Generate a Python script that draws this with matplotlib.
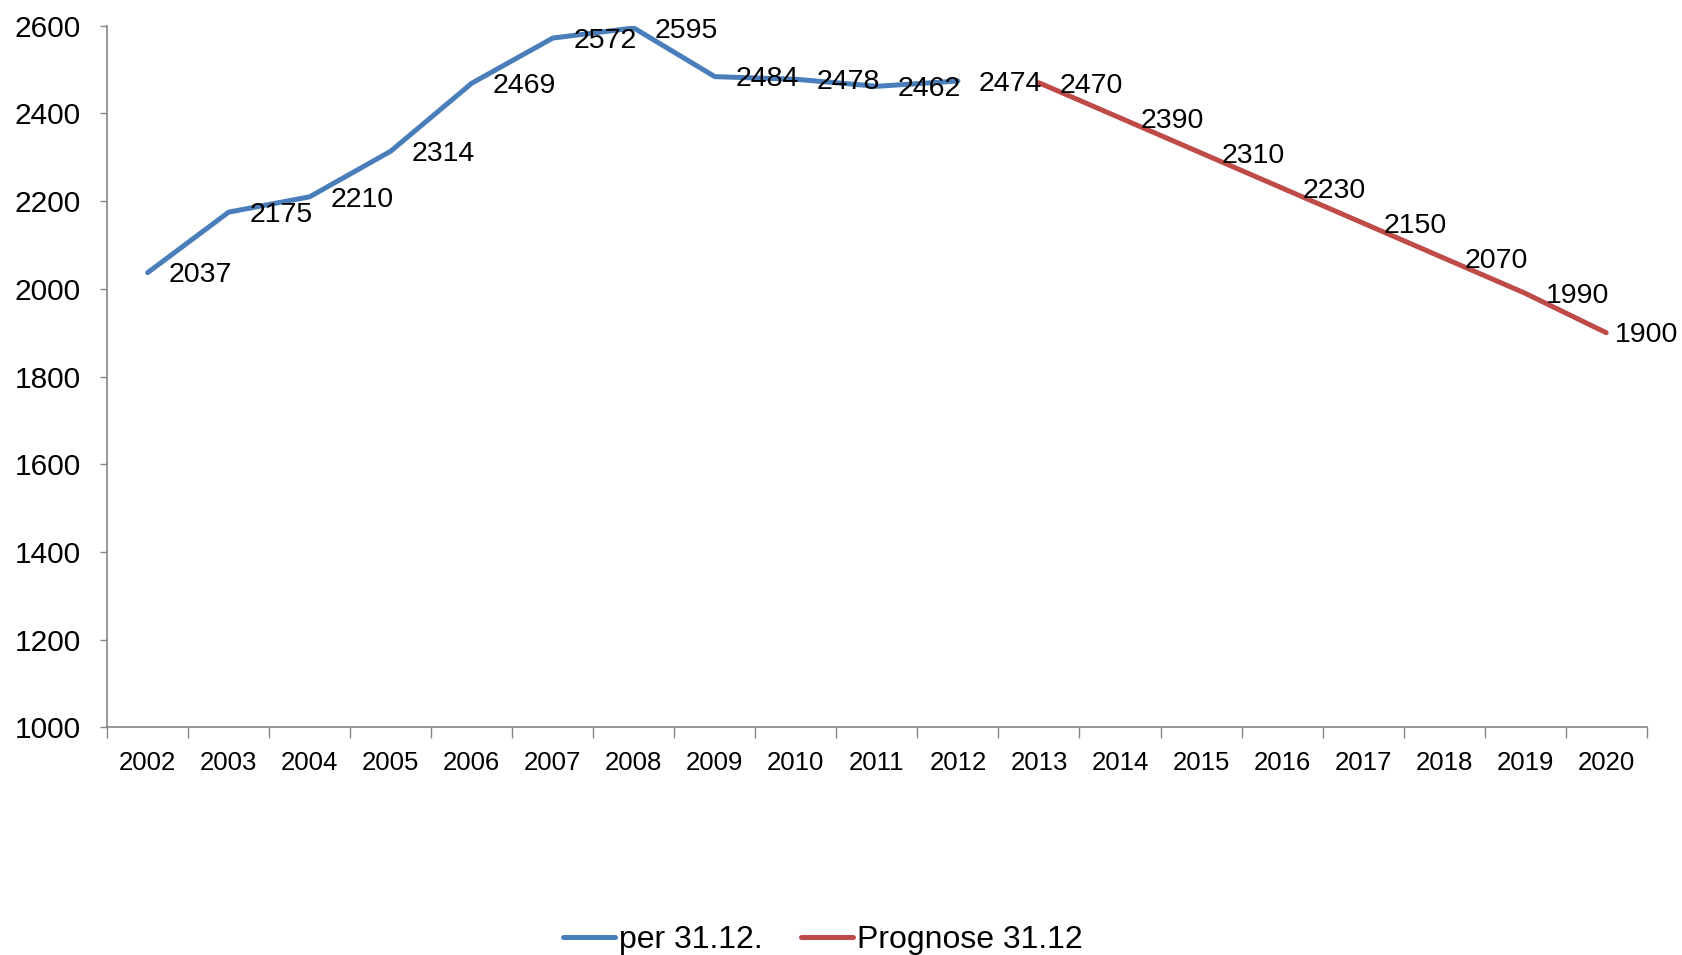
import matplotlib
matplotlib.use("Agg")
import matplotlib.pyplot as plt
import numpy as np

years = [str(y) for y in range(2002, 2021)]
actual_values = [2037, 2175, 2210, 2314, 2469, 2572, 2595, 2484, 2478, 2462, 2474]
forecast_values = [2470, 2390, 2310, 2230, 2150, 2070, 1990, 1900]
actual_label = "per 31.12."
forecast_label = "Prognose 31.12"
y_ticks = [1000, 1200, 1400, 1600, 1800, 2000, 2200, 2400, 2600]

BLUE = "#4A7EBB"
RED = "#BE4B48"
GRAY = "#868686"

plt.rcParams["font.family"] = ["Liberation Sans", "DejaVu Sans"]

fig = plt.figure(figsize=(16.82, 9.55), dpi=100)
ax = fig.add_axes([0.0637, 0.2384, 0.9153, 0.7346])

x_act = np.arange(len(actual_values))
x_fc = np.arange(len(actual_values), len(actual_values) + len(forecast_values))

ax.plot(x_act, actual_values, color=BLUE, lw=3.6, solid_capstyle="round",
        solid_joinstyle="round", label=actual_label)
ax.plot(x_fc, forecast_values, color=RED, lw=3.6, solid_capstyle="round",
        solid_joinstyle="round", label=forecast_label)

all_x = list(x_act) + list(x_fc)
all_v = list(actual_values) + list(forecast_values)
for i, (xi, v) in enumerate(zip(all_x, all_v)):
    dx = 6 if i == len(all_x) - 1 else 15
    ax.annotate(str(v), (xi, v), xytext=(dx, -2), textcoords="offset points",
                ha="left", va="center", fontsize=20.5, color="black")

ax.set_xlim(-0.5, len(years) - 0.5)
ax.set_ylim(y_ticks[0], y_ticks[-1])
ax.set_yticks(y_ticks)
ax.set_yticklabels([str(t) for t in y_ticks], fontsize=21.5)
ax.tick_params(axis="y", length=5, width=1, color=GRAY, pad=14)

ax.set_xticks(np.arange(-0.5, len(years), 1.0))
ax.set_xticklabels([])
ax.tick_params(axis="x", which="major", length=8, width=1, color=GRAY)
ax.set_xticks(np.arange(len(years)), minor=True)
ax.set_xticklabels(years, minor=True, fontsize=18.5,
                   fontfamily=["Liberation Sans Narrow", "Liberation Sans", "DejaVu Sans"])
ax.tick_params(axis="x", which="minor", length=0, pad=17)

for s in ["top", "right"]:
    ax.spines[s].set_visible(False)
for s in ["left", "bottom"]:
    ax.spines[s].set_color(GRAY)
    ax.spines[s].set_linewidth(1.2)

fig.legend(loc="center", bbox_to_anchor=(0.489, 0.016), ncol=2, frameon=False,
           fontsize=23, handlelength=1.65, handletextpad=0.1, columnspacing=1.2)

fig.savefig("out.png", dpi=100)
